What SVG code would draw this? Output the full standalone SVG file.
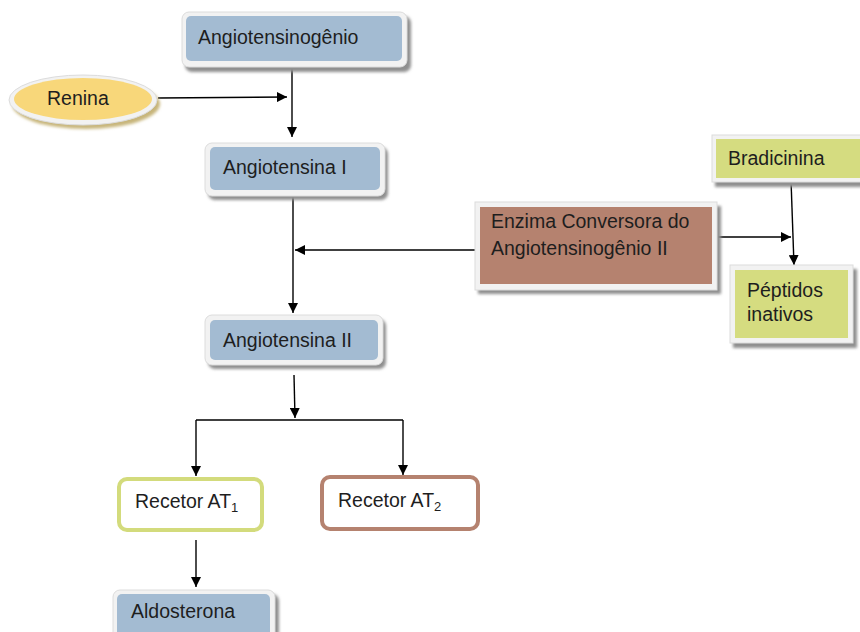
<svg xmlns="http://www.w3.org/2000/svg" width="860" height="632" viewBox="0 0 860 632">
<defs>
<marker id="ah" viewBox="0 0 10 10" refX="10" refY="5" markerWidth="10" markerHeight="10" markerUnits="userSpaceOnUse" orient="auto">
<path d="M0,0 L10,5 L0,10 Z" fill="#000"/>
</marker>
<filter id="sh" x="-10%" y="-10%" width="130%" height="140%">
<feGaussianBlur stdDeviation="1.5"/>
</filter>
</defs>
<style>
text{font-family:"Liberation Sans",Arial,sans-serif;font-size:19.5px;fill:#1e1e1e}
.shadow{fill:#8f8f8f;filter:url(#sh)}
.frame{fill:#f2f2f2;stroke:#dcdcdc;stroke-width:1}
.blue{fill:#a3bbd2}
.brown{fill:#b5826f}
.green{fill:#d5dc80}
.conn line,.conn path{stroke:#000;stroke-width:1.4;fill:none}
</style>
<rect width="860" height="632" fill="#fff"/>

<g class="conn">
<line x1="292" y1="68" x2="292" y2="137" marker-end="url(#ah)"/>
<line x1="158" y1="98" x2="287" y2="97" marker-end="url(#ah)"/>
<line x1="293" y1="197" x2="293" y2="313" marker-end="url(#ah)"/>
<line x1="475" y1="250" x2="295" y2="250" marker-end="url(#ah)"/>
<line x1="294" y1="375" x2="295" y2="418" marker-end="url(#ah)"/>
<path d="M196,420 L403,420"/>
<line x1="196" y1="420" x2="196" y2="476" marker-end="url(#ah)"/>
<line x1="403" y1="420" x2="403" y2="475" marker-end="url(#ah)"/>
<line x1="196" y1="540" x2="196" y2="587" marker-end="url(#ah)"/>
<line x1="717" y1="237" x2="791" y2="237" marker-end="url(#ah)"/>
<line x1="791" y1="180" x2="794" y2="265" marker-end="url(#ah)"/>
</g>

<g id="angiotensinogenio">
<rect class="shadow" x="185" y="16" width="226" height="56" rx="7"/>
<rect class="frame" x="182" y="12" width="225" height="55" rx="7"/>
<rect class="blue" x="186" y="16" width="216" height="45" rx="5"/>
<text x="198" y="44">Angiotensinogênio</text>
</g>

<g id="renina">
<ellipse cx="86" cy="104" rx="74" ry="25" fill="#c7b57a" filter="url(#sh)"/>
<ellipse cx="83" cy="100" rx="74" ry="25" fill="#f2f2f2" stroke="#dcdcdc"/>
<ellipse cx="83" cy="99" rx="69" ry="21" fill="#f8d77a"/>
<text x="47" y="105">Renina</text>
</g>

<g id="angiotensina1">
<rect class="shadow" x="208" y="147" width="180" height="53" rx="7"/>
<rect class="frame" x="205" y="143" width="180" height="53" rx="7"/>
<rect class="blue" x="210" y="147" width="170" height="43" rx="5"/>
<text x="223" y="174">Angiotensina I</text>
</g>

<g id="eca">
<rect class="shadow" x="478" y="206" width="243" height="88"/>
<rect class="frame" x="475" y="202" width="242" height="88"/>
<rect class="brown" x="480" y="207" width="232" height="77"/>
<text x="491" y="228">Enzima Conversora do</text>
<text x="491" y="255">Angiotensinogênio II</text>
</g>

<g id="bradicinina">
<rect class="shadow" x="715" y="139" width="150" height="48"/>
<rect class="frame" x="712" y="135" width="152" height="47"/>
<rect class="green" x="716" y="139" width="148" height="39"/>
<text x="728" y="165">Bradicinina</text>
</g>

<g id="peptidos">
<rect class="shadow" x="733" y="269" width="124" height="79"/>
<rect class="frame" x="730" y="265" width="123" height="78"/>
<rect class="green" x="735" y="270" width="113" height="68"/>
<text x="747" y="297">Péptidos</text>
<text x="747" y="321">inativos</text>
</g>

<g id="angiotensina2">
<rect class="shadow" x="208" y="319" width="178" height="50" rx="7"/>
<rect class="frame" x="205" y="315" width="178" height="50" rx="7"/>
<rect class="blue" x="210" y="320" width="168" height="40" rx="5"/>
<text x="223" y="347">Angiotensina II</text>
</g>

<g id="recetor1">
<rect x="119" y="479" width="143" height="51" rx="8" fill="#fff" stroke="#d3db7c" stroke-width="4"/>
<text x="135" y="508">Recetor AT<tspan font-size="13" dy="4">1</tspan></text>
</g>

<g id="recetor2">
<rect x="322" y="477" width="156" height="52" rx="8" fill="#fff" stroke="#b5826f" stroke-width="4"/>
<text x="338" y="507">Recetor AT<tspan font-size="13" dy="4">2</tspan></text>
</g>

<g id="aldosterona">
<rect class="shadow" x="116" y="594" width="163" height="45" rx="7"/>
<rect class="frame" x="113" y="590" width="162" height="50" rx="7"/>
<rect class="blue" x="117" y="594" width="153" height="42" rx="5"/>
<text x="131" y="618">Aldosterona</text>
</g>
</svg>
